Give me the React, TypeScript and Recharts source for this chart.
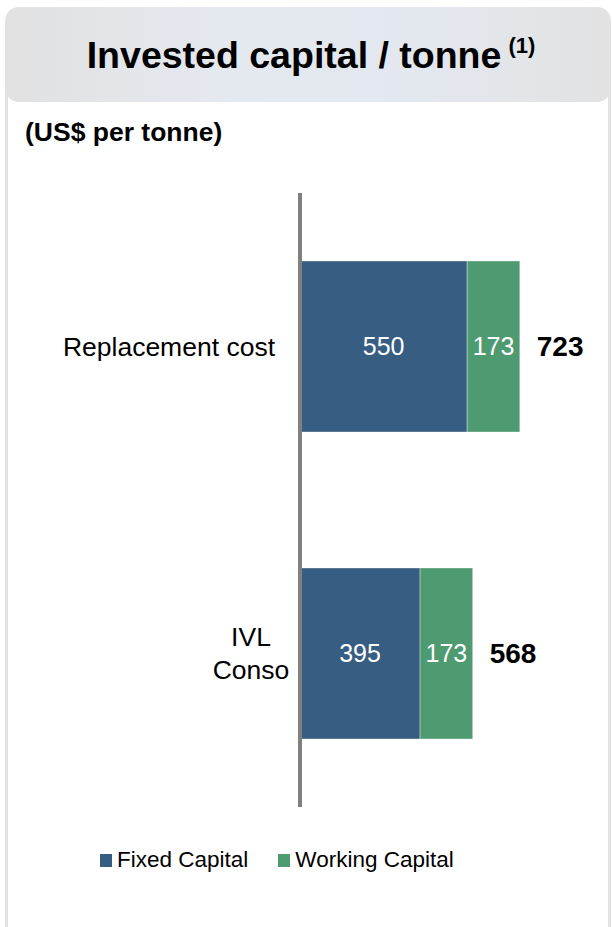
import { BarChart, Bar, XAxis, YAxis, LabelList, Legend } from 'recharts';

const categories = ['Replacement cost', 'IVL\nConso'];
const fixedCapital = [550, 395];
const workingCapital = [173, 173];
const seriesNames = ['Fixed Capital', 'Working Capital'];

const BLUE = '#375D82';
const GREEN = '#4E9A71';
const FONT = '"Liberation Sans", Arial, sans-serif';

const data = categories.map((name, i) => ({
  name,
  fixed: fixedCapital[i],
  working: workingCapital[i],
  total: fixedCapital[i] + workingCapital[i],
}));

const CategoryTick = (props: any) => {
  const { x, y, payload } = props;
  const lines = String(payload.value).split('\n');
  if (lines.length === 1) {
    return (
      <text x={x} y={y} dy="0.35em" textAnchor="end" fontSize={26.5} fontFamily={FONT} fill="#000">
        {lines[0]}
      </text>
    );
  }
  const lh = 33;
  const top = y - ((lines.length - 1) * lh) / 2;
  return (
    <text textAnchor="middle" fontSize={26.5} fontFamily={FONT} fill="#000">
      {lines.map((l, i) => (
        <tspan key={i} x={x - 24} y={top + i * lh} dy="0.35em">{l}</tspan>
      ))}
    </text>
  );
};

const TotalLabel = (props: any) => {
  const { x, y, width, height, value } = props;
  return (
    <text x={Number(x) + Number(width) + 17} y={Number(y) + Number(height) / 2} dy="0.35em"
      fontSize={28} fontWeight={700} fontFamily={FONT} fill="#000">
      {value}
    </text>
  );
};

const LegendContent = () => (
  <div style={{ display: 'flex', alignItems: 'center', paddingLeft: 100, fontFamily: FONT, fontSize: 22.5, lineHeight: '26px', color: '#000' }}>
    {seriesNames.map((n, i) => (
      <div key={n} style={{ display: 'flex', alignItems: 'center', marginRight: 30 }}>
        <span style={{ width: 12, height: 13, background: i === 0 ? BLUE : GREEN, marginRight: 5, display: 'inline-block' }} />
        <span>{n}</span>
      </div>
    ))}
  </div>
);

export default function App() {
  return (
    <div style={{ position: 'fixed', left: 0, top: 0, width: 612, height: 927, background: '#fff', overflow: 'hidden', fontFamily: FONT }}>
      {/* panel borders */}
      <div style={{ position: 'absolute', left: 5, top: 40, width: 600, height: 900, borderLeft: '3px solid #e2e2e2', borderRight: '3px solid #e2e2e2' }} />
      {/* header */}
      <div style={{
        position: 'absolute', left: 5, top: 7, width: 606, height: 95, borderRadius: 14,
        background: 'linear-gradient(90deg, #e1e1e1 0%, #e4e8ef 35%, #e3e8f0 65%, #e2e2e2 100%)',
        display: 'flex', alignItems: 'center', justifyContent: 'center',
      }}>
        <span style={{ fontSize: 37.5, fontWeight: 700, color: '#000', marginTop: 0, marginLeft: 6 }}>
          Invested capital / tonne<sup style={{ fontSize: 22, marginLeft: 7, verticalAlign: 15 }}>(1)</sup>
        </span>
      </div>
      <div style={{ position: 'absolute', left: 25, top: 117, fontSize: 26.5, fontWeight: 700, color: '#000' }}>
        (US$ per tonne)
      </div>
      <div style={{ position: 'absolute', left: 0, top: 0 }}>
        <BarChart width={612} height={927} data={data} layout="vertical"
          margin={{ top: 193, right: 8, bottom: 94, left: 0 }}>
          <XAxis type="number" domain={[0, 1000]} hide />
          <YAxis type="category" dataKey="name" width={300} axisLine={{ stroke: '#808080', strokeWidth: 4 }}
            tickLine={false} tickSize={0} tickMargin={25} tick={<CategoryTick />} />
          <Bar dataKey="fixed" name={seriesNames[0]} stackId="a" fill={BLUE} barSize={171}
            stroke="rgba(255,255,255,0.35)" strokeWidth={1} isAnimationActive={false}>
            <LabelList dataKey="fixed" position="center" fill="#fff" fontSize={25} fontFamily={FONT} />
          </Bar>
          <Bar dataKey="working" name={seriesNames[1]} stackId="a" fill={GREEN} barSize={171}
            stroke="rgba(255,255,255,0.35)" strokeWidth={1} isAnimationActive={false}>
            <LabelList dataKey="working" position="center" fill="#fff" fontSize={25} fontFamily={FONT} />
            <LabelList dataKey="total" content={TotalLabel} />
          </Bar>
          <Legend content={LegendContent} wrapperStyle={{ top: 847, left: 0, width: 612 }} />
        </BarChart>
      </div>
    </div>
  );
}
